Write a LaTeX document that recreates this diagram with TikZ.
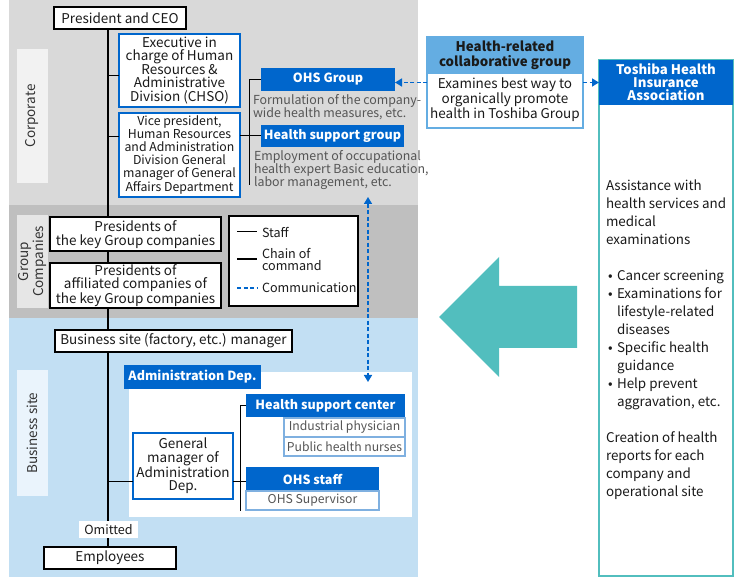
\documentclass[tikz,border=0pt]{standalone}
\usepackage{fontspec}
\setmainfont{Noto Sans CJK JP}
\usepackage{xcolor}
\usepackage{tikz}
\usetikzlibrary{arrows.meta}
\definecolor{ink}{HTML}{1A1A1A}
\definecolor{muted}{HTML}{555555}
\definecolor{dark}{HTML}{333333}
\definecolor{corp}{HTML}{D9D9D9}
\definecolor{grp}{HTML}{BFBFBF}
\definecolor{site}{HTML}{C2DFF3}
\definecolor{corplab}{HTML}{F2F2F2}
\definecolor{grplab}{HTML}{E6E6E6}
\definecolor{sitelab}{HTML}{EAF4FC}
\definecolor{brand}{HTML}{0066CC}
\definecolor{sky}{HTML}{64ADE2}
\definecolor{pale}{HTML}{7FB0E0}
\definecolor{assoc}{HTML}{52BEBE}
\pgfdeclarelayer{bands}
\pgfdeclarelayer{spineline}
\pgfsetlayers{bands,spineline,main}
\newcommand\tbul{\makebox[9pt]{•}}
\newcommand\fullrow[1]{\multicolumn{2}{@{}l@{}}{#1}}
\tikzset{
  box/.style 2 args={minimum width=#1, minimum height=#2},
  txt/.style={inner sep=0pt, outer sep=0pt, align=center, text=ink,
    font=\fontsize{13.5}{13.5}\selectfont},
  post/.style={txt, draw=black, line width=2pt, fill=white},
  unit/.style={txt, draw=brand, line width=2pt, fill=white},
  head/.style={txt, fill=brand, text=white, font=\fontsize{12.6}{13}\selectfont\bfseries},
  sub/.style={txt, draw=pale, line width=1.2pt, fill=white, text=muted,
    font=\fontsize{12.2}{12.2}\selectfont},
  note/.style={txt, align=left, text=muted, anchor=north west,
    font=\fontsize{12.4}{13.3}\selectfont},
  small/.style={txt, font=\fontsize{12.6}{12}\selectfont},
  sidelab/.style={txt, rotate=90, text=dark},
  staffline/.style={draw=black, line width=1pt},
  cmd/.style={draw=black, line width=2.6pt},
  comm/.style={draw=brand, line width=1.5pt, dash pattern=on 4pt off 2.5pt},
  >={Triangle[length=7pt,width=8pt]},
}
\begin{document}
\begin{tikzpicture}[x=1pt,y=-1pt]
  \useasboundingbox (0,0) rectangle (740,577);
  % bands
  \begin{pgfonlayer}{bands}
    \foreach \ya/\yb/\col in {0/205/corp,205/318/grp,318/577/site}
      \fill[\col] (9,\ya) rectangle (418,\yb);
  \end{pgfonlayer}
  \node[sidelab, fill=corplab, box={134}{31}] (corplbl) at (32.5,116) {Corporate};
  \node[sidelab, fill=grplab, box={93}{31}, font=\fontsize{13.5}{11}\selectfont] (grplbl) at (32.5,261.5) {Group\\Companies};
  \node[sidelab, fill=sitelab, box={126}{31}] (sitelbl) at (32.5,433) {Business site};

  % big arrow
  \fill[assoc] (439,317) -- (499,257) -- (499,286) -- (577,286) -- (577,348)
    -- (499,348) -- (499,377) -- cycle;

  % health insurance association
  \node[draw=assoc, line width=1.5pt, fill=white, box={134}{516}, inner sep=0pt, outer sep=0pt] (thia) at (666,318) {};
  \node[head, box={134}{45}, anchor=north, font=\fontsize{13.2}{13}\selectfont\bfseries] (thiahead) at (thia.north) {Toshiba Health\\Insurance\\Association};
  \node[txt, align=left, anchor=north west, font=\fontsize{13.4}{18}\selectfont] (thiabody) at (606,178) {%
    \begin{tabular}{@{}l@{\hspace{2pt}}l@{}}
      \fullrow{Assistance with}\\
      \fullrow{health services and}\\
      \fullrow{medical}\\
      \fullrow{examinations}\\
      \\
      \tbul & Cancer screening\\
      \tbul & Examinations for\\
            & lifestyle-related\\
            & diseases\\
      \tbul & Specific health\\
            & guidance\\
      \tbul & Help prevent\\
            & aggravation, etc.\\
      \\
      \fullrow{Creation of health}\\
      \fullrow{reports for each}\\
      \fullrow{company and}\\
      \fullrow{operational site}
    \end{tabular}};

  % corporate
  \node[post, box={132}{22}] (ceo) at (120,18) {President and CEO};
  \node[unit, box={121}{73}] (exec) at (179.5,70.5) {Executive in\\charge of Human\\Resources \&\\Administrative\\Division (CHSO)};
  \node[unit, box={121}{84}, font=\fontsize{12.3}{13}\selectfont] (vp) at (179.5,155) {Vice president,\\Human Resources\\and Administration\\Division General\\manager of General\\Affairs Department};
  \node[head, box={134}{23}] (ohs) at (328,79.5) {OHS Group};
  \node[note] (ohsnote) at (253,94) {Formulation of the company-\\wide health measures, etc.};
  \node[head, box={143}{22}] (hsg) at (332.5,136) {Health support group};
  \node[note] (hsgnote) at (254,150) {Employment of occupational\\health expert Basic education,\\labor management, etc.};

  % collaborative group
  \node[draw=sky, line width=2pt, fill=white, box={156}{91}, inner sep=0pt, outer sep=0pt] (hrc) at (505,82.5) {};
  \node[txt, fill=sky, box={156}{37}, anchor=north, font=\fontsize{13.3}{15}\selectfont\bfseries] (hrchead) at (hrc.north) {Health-related\\collaborative group};
  \node[txt, font=\fontsize{13.5}{15}\selectfont] (hrcbody) at (505,99.5) {Examines best way to\\organically promote\\health in Toshiba Group};

  % group companies
  \node[post, box={171}{34}] (keyco) at (135.5,234.5) {Presidents of\\the key Group companies};
  \node[post, box={171}{45}] (affco) at (135.5,285.5) {Presidents of\\affiliated companies of\\the key Group companies};
  \node[post, box={129}{90}] (legend) at (293.5,261) {};
  \node[small, anchor=west] (lgstaff) at (262,232) {Staff};
  \node[small, anchor=west, align=left] (lgcmd) at (262,259) {Chain of\\command};
  \node[small, anchor=west] (lgcomm) at (262,288) {Communication};
  \draw[staffline] ([xshift=-25pt]lgstaff.west) -- ([xshift=-5pt]lgstaff.west);
  \draw[cmd] ([xshift=-25pt]lgcmd.west) -- ([xshift=-5pt]lgcmd.west);
  \draw[comm] ([xshift=-25pt]lgcomm.west) -- ([xshift=-5pt]lgcomm.west);

  % business site
  \node[post, box={237}{22}] (bsm) at (173.5,341) {Business site (factory, etc.) manager};
  \node[fill=white, box={283}{145}, inner sep=0pt, outer sep=0pt] (adminpanel) at (270.5,444.5) {};
  \node[head, box={137}{24}] (admintab) at (192.5,377) {Administration Dep.};
  \node[unit, box={100}{66}] (gm) at (183,466) {General\\manager of\\Administration\\Dep.};
  \node[head, box={159}{23}] (hsc) at (325.5,405.5) {Health support center};
  \node[sub, box={121}{19}] (phys) at (344.5,427.5) {Industrial physician};
  \node[sub, box={121}{19}] (nurse) at (344.5,446.5) {Public health nurses};
  \node[head, box={133}{23}] (ohsst) at (312.5,479) {OHS staff};
  \node[sub, box={133}{19}] (super) at (312.5,500.5) {OHS Supervisor};
  \node[small, fill=white, box={59}{17}] (omit) at (108.5,529.5) {Omitted};
  \node[post, box={132}{22}] (emp) at (110,558) {Employees};

  % chain of command
  \coordinate (spine) at ([xshift=54pt]ceo.south west);
  \begin{pgfonlayer}{spineline}
    \draw[cmd] (spine) -- (spine |- emp.north);
  \end{pgfonlayer}

  % staff lines
  \draw[staffline] ([yshift=-5.5pt]exec.west) -- ([yshift=-5.5pt]exec.west -| spine);
  \draw[staffline] ([yshift=18pt]vp.west) -- ([yshift=18pt]vp.west -| spine);
  \draw[staffline] (vp.east |- hsg.west) -- (hsg.west);
  \coordinate (corpbus) at (249,185);
  \draw[staffline] (ohs.west) -| (corpbus);
  \draw[staffline] ([yshift=-16pt]gm.west) -- ([yshift=-16pt]gm.west -| spine);
  \draw[staffline] ([yshift=-16pt]gm.east) -- ([yshift=-16pt]gm.east -| ohsst.west);
  \coordinate (sitebus) at (240,511);
  \draw[staffline] (hsc.west) -| (sitebus);

  % communication
  \draw[comm,->] (hrc.west) -- (hrc.west -| ohs.east);
  \draw[comm,->] (hrc.east) -- (hrc.east -| thia.west);
  \coordinate (commup) at (368,197);
  \coordinate (commdn) at (368,382);
  \draw[comm,<->] (commup) -- (commdn);
\end{tikzpicture}
\end{document}
